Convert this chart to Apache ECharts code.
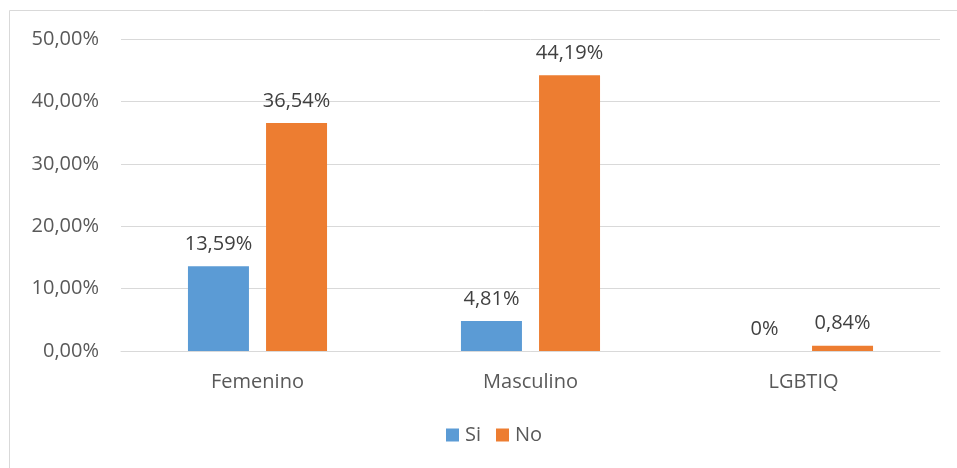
<!DOCTYPE html>
<html><head><meta charset="utf-8">
<script src="https://cdn.jsdelivr.net/npm/echarts@6/dist/echarts.min.js"></script>
<style>html,body{margin:0;padding:0;background:#fff}#c{width:957px;height:468px}</style>
</head><body><div id="c"></div>
<script>
const categories = ['Femenino', 'Masculino', 'LGBTIQ'];
const siValues = [13.59, 4.81, 0];
const noValues = [36.54, 44.19, 0.84];
const yTicks = [0, 10, 20, 30, 40, 50];

const fontFam = '"Open Sans", "Noto Sans", sans-serif';
const txt = '#595959';
function fmtLabel(v) {
  return v === 0 ? '0%' : v.toFixed(2).replace('.', ',') + '%';
}
const chart = echarts.init(document.getElementById('c'));
chart.setOption({
  animation: false,
  graphic: [{
    type: 'rect', shape: { x: 9.5, y: 10.5, width: 1000, height: 1000 },
    style: { fill: 'none', stroke: '#d9d9d9', lineWidth: 1 }, silent: true, z: -1
  }],
  grid: { left: 121, right: 17, top: 39, bottom: 117, containLabel: false },
  legend: {
    bottom: 18, left: 441, itemWidth: 13, itemHeight: 13, itemGap: 15,
    icon: 'rect',
    textStyle: { color: txt, fontSize: 20, fontFamily: fontFam, padding: [0, 0, 0, 1] },
    data: ['Si', 'No']
  },
  xAxis: {
    type: 'category', data: categories,
    axisLine: { lineStyle: { color: '#d9d9d9' } },
    axisTick: { show: false },
    axisLabel: { color: txt, fontSize: 20, fontFamily: fontFam, margin: 21 }
  },
  yAxis: {
    type: 'value', min: yTicks[0], max: yTicks[yTicks.length - 1], interval: 10,
    axisLine: { show: false }, axisTick: { show: false },
    splitLine: { lineStyle: { color: '#d9d9d9' } },
    axisLabel: {
      color: txt, fontSize: 20, fontFamily: fontFam, margin: 22,
      formatter: v => v.toFixed(2).replace('.', ',') + '%'
    }
  },
  series: [
    {
      name: 'Si', type: 'bar', data: siValues, barWidth: 61, barGap: '28%',
      itemStyle: { color: '#5b9bd5' },
      label: { show: true, position: 'top', distance: 12, color: '#404040', fontSize: 20,
        fontFamily: fontFam, formatter: p => fmtLabel(p.value) }
    },
    {
      name: 'No', type: 'bar', data: noValues, barWidth: 61,
      itemStyle: { color: '#ed7d31' },
      label: { show: true, position: 'top', distance: 12, color: '#404040', fontSize: 20,
        fontFamily: fontFam, formatter: p => fmtLabel(p.value) }
    }
  ]
});
</script></body></html>
